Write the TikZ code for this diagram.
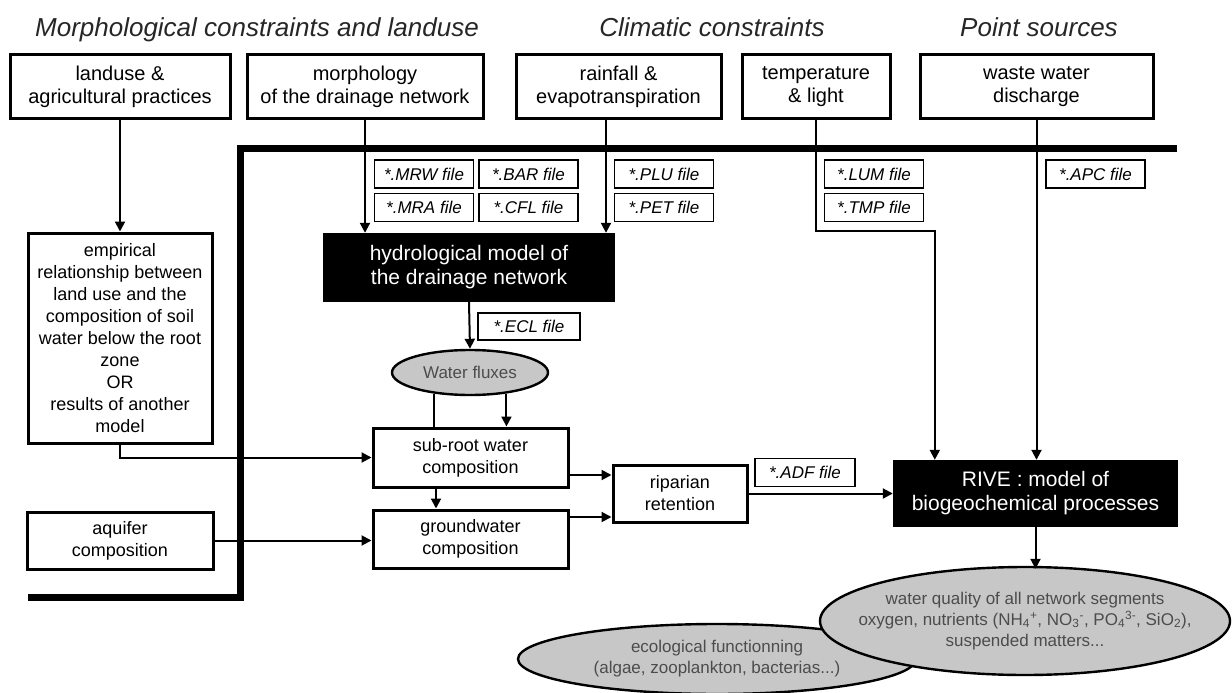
\documentclass[tikz,border=0pt]{standalone}
\usepackage{fontspec}
\setmainfont{Liberation Sans}
\usetikzlibrary{arrows.meta,shapes.geometric}

\begin{document}
\begin{tikzpicture}[x=1pt, y=-1pt,
    every node/.style = {align=center, inner sep=0pt,
      font=\fontsize{18}{22}\selectfont},
    box/.style = {shape=rectangle, draw, line width=3pt},
    topbox/.style = {box, minimum height=63pt,
      font=\fontsize{20}{23}\selectfont},
    filebox/.style = {draw, line width=1.8pt, minimum width=99pt,
      minimum height=28pt, font=\fontsize{17}{20}\selectfont\itshape},
    modelbox/.style = {fill=black, text=white,
      font=\fontsize{21}{24}\selectfont},
    bubble/.style = {ellipse, draw, line width=2.4pt, fill=black!22,
      text=black!70, font=\fontsize{17}{21}\selectfont},
    heading/.style = {anchor=base, font=\fontsize{26}{30}\selectfont\itshape, text=black!85},
    arr/.style = {line width=2pt, -{Triangle[length=10pt, width=10pt]}},
    link/.style = {line width=2pt},
    frame/.style = {line width=7pt}]

  \useasboundingbox (0,0) rectangle (1232,693);

  \node[heading] (hMorpho) at (257,37) {Morphological constraints and landuse};
  \node[heading] (hClimate) at (712,37) {Climatic constraints};
  \node[heading] (hPoint) at (1039,37) {Point sources};

  \node[topbox, minimum width=220pt] (landuse) at (120,86.5) {landuse \&\\agricultural practices};
  \node[topbox, minimum width=236pt] (morpho) at (365,86.5) {morphology\\of the drainage network};
  \node[topbox, minimum width=205pt] (rain) at (618.5,86.5) {rainfall \&\\evapotranspiration};
  \node[topbox, minimum width=148pt] (temp) at (816,86.5) {temperature\\\& light};
  \node[topbox, minimum width=233pt] (waste) at (1036.5,86.5) {waste water\\discharge};

  \draw[frame] (1177,148) -- (240,148) -- (240,597) -- (28,597);

  \node[filebox] (mrw) at (424,174) {*.MRW file};
  \node[filebox] (bar) at (528.5,174) {*.BAR file};
  \node[filebox] (mra) at (424,207.5) {*.MRA file};
  \node[filebox] (cfl) at (528.5,207.5) {*.CFL file};
  \node[filebox] (plu) at (664,174) {*.PLU file};
  \node[filebox] (pet) at (664,207.5) {*.PET file};
  \node[filebox] (lum) at (874,174) {*.LUM file};
  \node[filebox] (tmp) at (874,207.5) {*.TMP file};
  \node[filebox] (apc) at (1095.5,174) {*.APC file};

  \node[modelbox, minimum width=292pt, minimum height=69pt] (hydro) at (469,267.5)
    {hydrological model of\\the drainage network};
  \node[filebox, minimum width=102pt, minimum height=27pt] (ecl) at (529,326.5) {*.ECL file};
  \node[bubble, minimum width=156pt, minimum height=45pt] (flux) at (470,372.5) {Water fluxes};

  \node[box, minimum width=184pt, minimum height=210pt] (empirical) at (120,338)
    {empirical\\relationship between\\land use and the\\composition of soil\\water below the root\\zone\\OR\\results of another\\model};
  \node[box, minimum width=186pt, minimum height=57pt] (aquifer) at (120,540.5) {aquifer\\composition};
  \node[box, minimum width=195pt, minimum height=59pt] (subroot) at (470.5,457.5) {sub-root water\\composition};
  \node[box, minimum width=195pt, minimum height=58pt] (ground) at (470.5,539) {groundwater\\composition};
  \node[box, minimum width=134pt, minimum height=57pt] (riparian) at (680,493.5) {riparian\\retention};
  \node[filebox, minimum width=100pt] (adf) at (805,472.5) {*.ADF file};

  \node[modelbox, minimum width=285pt, minimum height=67pt] (rive) at (1035.5,493.5)
    {RIVE : model of\\biogeochemical processes};

  \node[bubble, minimum width=398pt, minimum height=70pt, inner xsep=-30pt] (ecology) at (717,659)
    {ecological functionning\\(algae, zooplankton, bacterias...)};
  \node[bubble, minimum width=410pt, minimum height=108pt, inner xsep=-45pt] (quality) at (1025,621)
    {water quality of all network segments\\oxygen, nutrients (NH\textsubscript{4}\textsuperscript{+}, NO\textsubscript{3}\textsuperscript{-}, PO\textsubscript{4}\textsuperscript{3-}, SiO\textsubscript{2}),\\suspended matters...};

  \coordinate (tempBend) at (816,231);

  \draw[arr] (landuse.south) -- (empirical.north);
  \draw[arr] (morpho.south) -- (morpho.south |- hydro.north);
  \draw[arr] ([xshift=-12.5pt]rain.south) -- ([xshift=-12.5pt]rain.south |- hydro.north);
  \draw[arr] (temp.south) -- (tempBend) -| ([xshift=42pt]rive.north west);
  \draw[arr] (waste.south) -- (waste.south |- rive.north);
  \draw[arr] (hydro.south) -- (flux.north);
  \draw[link] (flux.210) -- (flux.210 |- subroot.north);
  \draw[arr] (flux.330) -- (flux.330 |- subroot.north);
  \draw[arr] (empirical.south) |- (subroot.west);
  \draw[arr] ([xshift=-34.5pt]subroot.south) -- ([xshift=-34.5pt]subroot.south |- ground.north);
  \draw[arr] (aquifer.east) -- (aquifer.east -| ground.west);
  \draw[arr] ([yshift=-17.5pt]subroot.east) -- ([yshift=-17.5pt]subroot.east -| riparian.west);
  \draw[arr] ([yshift=22pt]ground.east) -- ([yshift=22pt]ground.east -| riparian.west);
  \draw[arr] (riparian.east) -- (rive.west);
  \draw[arr] (rive.south) -- ([yshift=-3pt]rive.south |- quality.north);
\end{tikzpicture}
\end{document}
